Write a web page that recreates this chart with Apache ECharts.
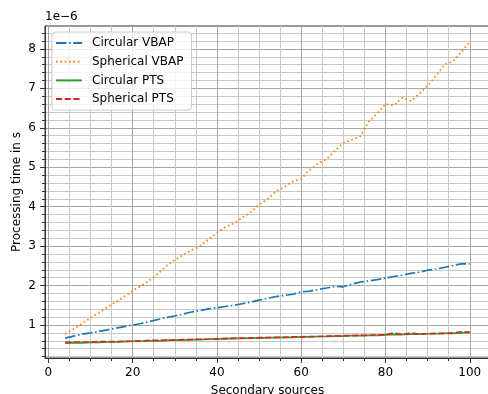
<!DOCTYPE html>
<html>
<head>
<meta charset="utf-8">
<script src="https://cdn.jsdelivr.net/npm/echarts@6/dist/echarts.min.js"></script>
<style>
  html, body { margin: 0; padding: 0; background: #fff; }
  #chart { width: 488px; height: 394px; }
</style>
</head>
<body>
<div id="chart"></div>
<script>
// number of secondary sources
const secondarySources = [4, 6, 8, 10, 12, 14, 16, 18, 20, 22, 24, 26, 28, 30, 32, 34, 36, 38, 40, 42, 44, 46, 48, 50,
  52, 54, 56, 58, 60, 62, 64, 66, 68, 70, 72, 74, 76, 78, 80, 82, 84, 86, 88, 90, 92, 94, 96, 98, 100]

// processing time, in units of 1e-6 s
const circularVbap = [0.67, 0.72, 0.77, 0.80, 0.84, 0.88, 0.92, 0.96, 1.00, 1.04, 1.09, 1.14, 1.19, 1.23, 1.28, 1.33,
  1.37, 1.41, 1.44, 1.47, 1.50, 1.54, 1.58, 1.63, 1.68, 1.72, 1.75, 1.78, 1.84, 1.86, 1.90, 1.94, 1.98, 1.97, 2.04,
  2.09, 2.12, 2.15, 2.19, 2.23, 2.27, 2.31, 2.34, 2.39, 2.42, 2.46, 2.51, 2.55, 2.55]
const sphericalVbap = [0.77, 0.90, 1.04, 1.18, 1.31, 1.45, 1.58, 1.72, 1.87, 1.99, 2.13, 2.30, 2.50, 2.65, 2.78, 2.90,
  3.00, 3.17, 3.34, 3.48, 3.58, 3.72, 3.86, 4.05, 4.19, 4.39, 4.50, 4.64, 4.71, 4.93, 5.09, 5.20, 5.42, 5.62, 5.69,
  5.78, 6.15, 6.36, 6.60, 6.57, 6.76, 6.68, 6.86, 7.06, 7.32, 7.60, 7.68, 7.92, 8.18]
const circularPts = [0.54, 0.55, 0.55, 0.56, 0.56, 0.57, 0.57, 0.58, 0.59, 0.59, 0.60, 0.60, 0.61, 0.62, 0.62, 0.63,
  0.63, 0.64, 0.65, 0.65, 0.66, 0.66, 0.67, 0.67, 0.68, 0.68, 0.69, 0.69, 0.70, 0.70, 0.71, 0.71, 0.72, 0.72, 0.73,
  0.73, 0.74, 0.74, 0.75, 0.76, 0.76, 0.77, 0.77, 0.78, 0.78, 0.79, 0.79, 0.80, 0.81]
const sphericalPts = [0.56, 0.57, 0.57, 0.57, 0.58, 0.58, 0.58, 0.59, 0.59, 0.60, 0.61, 0.61, 0.62, 0.62, 0.63, 0.63,
  0.64, 0.64, 0.65, 0.66, 0.66, 0.67, 0.67, 0.68, 0.68, 0.69, 0.69, 0.70, 0.70, 0.71, 0.71, 0.72, 0.72, 0.73, 0.73,
  0.74, 0.74, 0.75, 0.75, 0.80, 0.76, 0.80, 0.77, 0.78, 0.79, 0.79, 0.80, 0.83, 0.82]

const xMajorTicks = [0, 20, 40, 60, 80, 100]
const xMinorTicks = [5, 10, 15, 25, 30, 35, 45, 50, 55, 65, 70, 75, 85, 90, 95]
const yMajorTicks = [1, 2, 3, 4, 5, 6, 7, 8]
const yMinorTicks = [0.2, 0.4, 0.6, 0.8, 1.2, 1.4, 1.6, 1.8, 2.2, 2.4, 2.6, 2.8, 3.2, 3.4, 3.6, 3.8, 4.2, 4.4, 4.6, 4.8,
  5.2, 5.4, 5.6, 5.8, 6.2, 6.4, 6.6, 6.8, 7.2, 7.4, 7.6, 7.8, 8.2, 8.4]

const font = "DejaVu Sans"
const xRange = [-0.8, 104.8]
const yRange = [0.165, 8.58]

const chart = echarts.init(document.getElementById("chart"), null, { renderer: "canvas" })

function pairs(values) {
  return secondarySources.map((x, i) => [x, values[i]])
}

function xAxisOf(ticks, major) {
  return {
    type: "value",
    position: "bottom",
    offset: 0,
    min: xRange[0],
    max: xRange[1],
    name: major ? "Secondary sources" : "",
    nameLocation: "middle",
    nameGap: 27,
    nameMoveOverlap: false,
    nameTextStyle: { fontFamily: font, fontSize: 12, color: "#000", verticalAlign: "top" },
    axisLine: { show: major, onZero: false, lineStyle: { color: "#333", width: 1 } },
    axisTick: { show: true, length: major ? 5 : 3, customValues: ticks, lineStyle: { color: "#333" } },
    axisLabel: { show: major, customValues: ticks, margin: 9, fontFamily: font, fontSize: 12, color: "#000" },
    splitLine: { show: true, lineStyle: { color: major ? "#a6a6a6" : "#c9c9c9", width: 1 } },
  }
}

function yAxisOf(ticks, major) {
  return {
    type: "value",
    position: "left",
    offset: 0,
    min: yRange[0],
    max: yRange[1],
    name: major ? "Processing time in s" : "",
    nameLocation: "middle",
    nameGap: 22,
    nameMoveOverlap: false,
    nameTextStyle: { fontFamily: font, fontSize: 12, color: "#000" },
    axisLine: { show: major, onZero: false, lineStyle: { color: "#333", width: 1 } },
    axisTick: { show: true, length: major ? 5 : 3, customValues: ticks, lineStyle: { color: "#333" } },
    axisLabel: { show: major, customValues: ticks, margin: 9, fontFamily: font, fontSize: 12, color: "#000" },
    splitLine: { show: true, lineStyle: { color: major ? "#a6a6a6" : "#c9c9c9", width: 1 } },
  }
}

function lineSeries(name, values, color, dash) {
  return {
    name,
    type: "line",
    xAxisIndex: 1,
    yAxisIndex: 1,
    symbol: "none",
    smooth: false,
    animation: false,
    lineStyle: { color, width: 1.7, type: dash },
    itemStyle: { color },
    data: pairs(values),
  }
}

chart.setOption({
  backgroundColor: "#fff",
  animation: false,
  grid: {
    left: 45,
    top: 26,
    width: 445,
    height: 332,
    show: true,
    borderColor: "#333",
    borderWidth: 1,
    backgroundColor: "transparent",
    containLabel: false,
    outerBoundsMode: "none",
  },
  legend: {
    orient: "vertical",
    left: 52,
    top: 32,
    padding: [4, 8, 4, 3],
    itemWidth: 26,
    itemHeight: 14,
    itemGap: 4.7,
    itemStyle: { opacity: 0 },
    backgroundColor: "rgba(255,255,255,0.8)",
    borderColor: "#cccccc",
    borderWidth: 1,
    borderRadius: 3,
    textStyle: { fontFamily: font, fontSize: 12, color: "#000", lineHeight: 14, padding: [0, 0, 0, 5] },
    data: ["Circular VBAP", "Spherical VBAP", "Circular PTS", "Spherical PTS"],
  },
  xAxis: [xAxisOf(xMinorTicks, false), xAxisOf(xMajorTicks, true)],
  yAxis: [yAxisOf(yMinorTicks, false), yAxisOf(yMajorTicks, true)],
  graphic: [
    {
      type: "text",
      left: 45,
      top: 11,
      style: { text: "1e\u22126", fontFamily: font, fontSize: 12, fill: "#000" },
    },
  ],
  series: [
    lineSeries("Circular VBAP", circularVbap, "#1f77b4", [10.5, 2.6, 1.6, 2.6]),
    lineSeries("Spherical VBAP", sphericalVbap, "#ff7f0e", [1.65, 2.7]),
    lineSeries("Circular PTS", circularPts, "#2ca02c", "solid"),
    lineSeries("Spherical PTS", sphericalPts, "#d62728", [6.1, 2.6]),
  ],
})
</script>
</body>
</html>
